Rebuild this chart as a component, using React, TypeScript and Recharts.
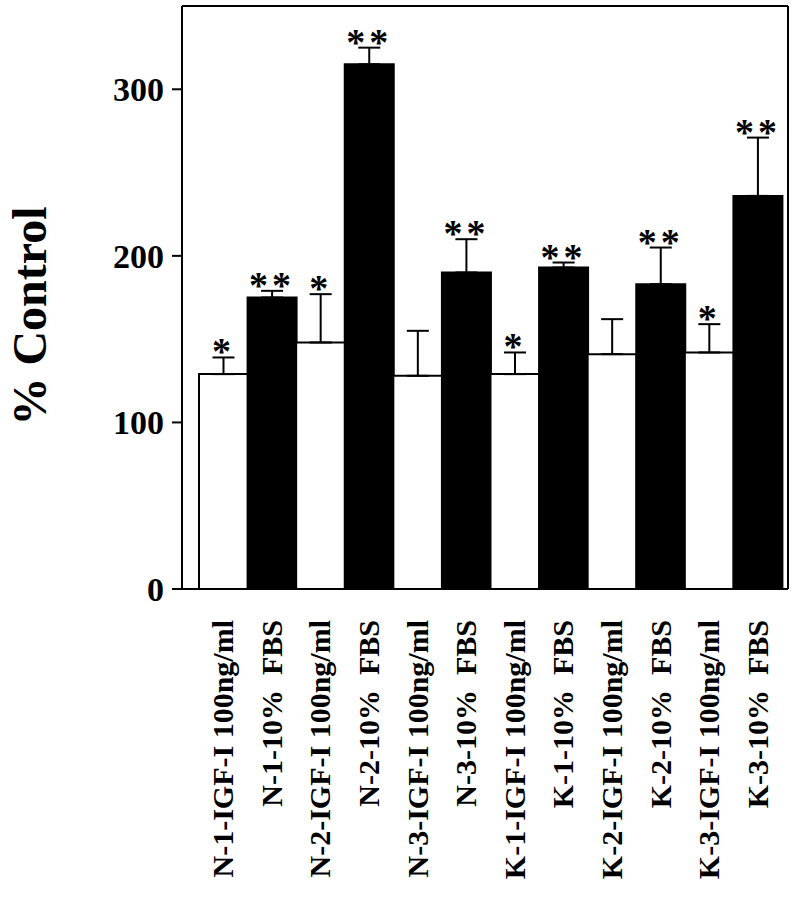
import React from "react";
import { ComposedChart, Bar, XAxis, YAxis, ErrorBar, Cell, LabelList } from "recharts";

const categories = [
  "N-1-IGF-I 100ng/ml",
  "N-1-10%  FBS",
  "N-2-IGF-I 100ng/ml",
  "N-2-10%  FBS",
  "N-3-IGF-I 100ng/ml",
  "N-3-10%  FBS",
  "K-1-IGF-I 100ng/ml",
  "K-1-10%  FBS",
  "K-2-IGF-I 100ng/ml",
  "K-2-10%  FBS",
  "K-3-IGF-I 100ng/ml",
  "K-3-10%  FBS",
];
const treatments = ["IGF", "FBS", "IGF", "FBS", "IGF", "FBS", "IGF", "FBS", "IGF", "FBS", "IGF", "FBS"];
const values = [129, 175, 148, 315, 128, 190, 129, 193, 141, 183, 142, 236];
const errors = [10, 4, 29, 10, 27, 20, 13, 3, 21, 22, 17, 35];
const stars = ["*", "**", "*", "**", "", "**", "*", "**", "", "**", "*", "**"];
const yTicks = [0, 100, 200, 300];

const data = categories.map((name, i) => ({ name, value: values[i], err: [0, errors[i]] }));

const FONT = "'Liberation Serif', 'Times New Roman', serif";

function XTick({ x, y, payload }: any) {
  return (
    <text
      x={x + 10}
      y={y + 23}
      transform={`rotate(-90, ${x + 10}, ${y + 23})`}
      textAnchor="end"
      fontFamily={FONT}
      fontWeight="bold"
      fontSize={30}
      fill="#000"
      style={{ whiteSpace: "pre" }}
    >
      {payload.value}
    </text>
  );
}

function Stars(props: any) {
  const { x, y, width, height, value, index } = props;
  const mark = stars[index];
  if (!mark) return null;
  const top = y - (errors[index] * height) / value;
  return (
    <text
      x={x + width / 2}
      y={top + 7}
      textAnchor="middle"
      fontFamily={FONT}
      fontWeight="bold"
      fontSize={38}
      letterSpacing={4}
      fill="#000"
    >
      {mark}
    </text>
  );
}

function YLabel() {
  return (
    <text
      x={46}
      y={316}
      transform="rotate(-90, 46, 316)"
      textAnchor="middle"
      fontFamily={FONT}
      fontWeight="bold"
      fontSize={48}
      fill="#000"
    >
      % Control
    </text>
  );
}

export default function App() {
  return (
    <div style={{ position: "absolute", left: 0, top: 0, width: 797, height: 899, background: "#fff" }}>
      <ComposedChart
        width={797}
        height={899}
        data={data}
        margin={{ top: 5, right: 8, bottom: 10, left: 0 }}
        barCategoryGap={0}
      >
        <XAxis
          dataKey="name"
          height={300}
          interval={0}
          padding={{ left: 17, right: 6 }}
          tickLine={false}
          axisLine={{ stroke: "#000", strokeWidth: 2 }}
          tick={<XTick />}
        />
        <XAxis
          xAxisId="top"
          dataKey="name"
          orientation="top"
          height={1}
          tick={false}
          tickLine={false}
          axisLine={{ stroke: "#000", strokeWidth: 2 }}
        />
        <YAxis
          domain={[0, 350]}
          ticks={yTicks}
          width={182}
          tickSize={10}
          tickMargin={8}
          axisLine={{ stroke: "#000", strokeWidth: 2 }}
          tickLine={{ stroke: "#000", strokeWidth: 2 }}
          tick={{ fontFamily: FONT, fontWeight: "bold", fontSize: 34, fill: "#000" }}
          label={{ content: <YLabel /> }}
        />
        <YAxis
          yAxisId="right"
          orientation="right"
          domain={[0, 350]}
          width={1}
          tick={false}
          tickLine={false}
          axisLine={{ stroke: "#000", strokeWidth: 2 }}
        />
        <Bar dataKey="value" isAnimationActive={false} stroke="#000" strokeWidth={2}>
          {data.map((d, i) => (
            <Cell key={d.name} fill={treatments[i] === "FBS" ? "#000" : "#fff"} />
          ))}
          <ErrorBar dataKey="err" width={11} stroke="#000" strokeWidth={2} direction="y" />
          <LabelList dataKey="value" content={<Stars />} />
        </Bar>
      </ComposedChart>
    </div>
  );
}
